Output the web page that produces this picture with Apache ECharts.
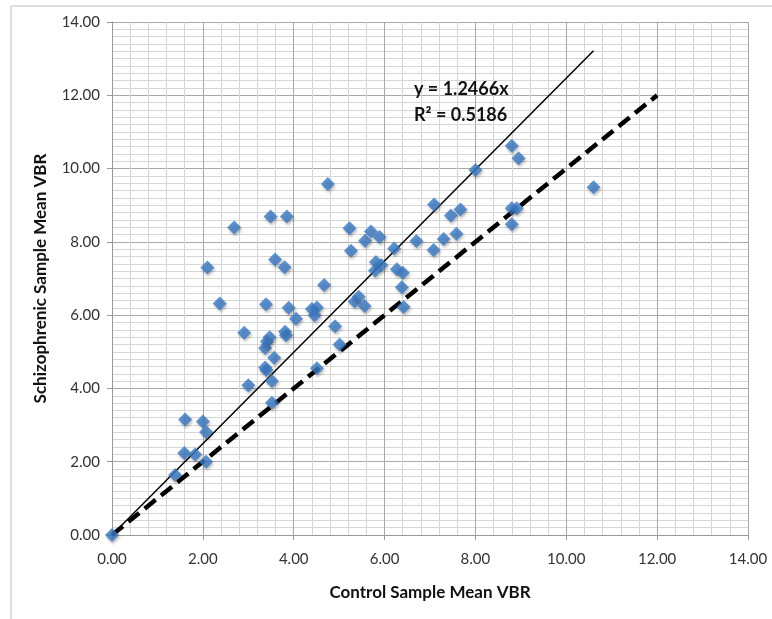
<!DOCTYPE html>
<html>
<head>
<meta charset="utf-8">
<script src="https://cdn.jsdelivr.net/npm/echarts@6/dist/echarts.min.js"></script>
<style>
  html, body { margin: 0; padding: 0; background: #fff; }
  #chart { width: 772px; height: 619px; }
</style>
</head>
<body>
<div id="chart"></div>
<script>
// control VBR (x) vs schizophrenic VBR (y)
var controlVbr = [0, 1.39, 1.59, 1.83, 2.07, 1.61, 2.0, 2.07, 2.1, 2.37, 2.69, 2.91, 3.0, 3.37, 3.4,
    3.37, 3.41, 3.47, 3.39, 3.49, 3.52, 3.52, 3.57, 3.59, 3.8, 3.85, 3.81, 3.83, 3.89, 4.05,
    4.4, 4.51, 4.46, 4.51, 4.67, 4.75, 4.91, 5.01, 5.23, 5.26, 5.34, 5.43, 5.56, 5.57, 5.7,
    5.89, 5.81, 5.93, 5.79, 6.21, 6.27, 6.4, 6.38, 6.42, 6.7, 7.08, 7.09, 7.3, 7.46, 7.67,
    7.58, 8.0, 8.8, 8.95, 8.8, 8.91, 8.8, 10.6];
var schizVbr = [0, 1.64, 2.24, 2.2, 2.0, 3.15, 3.1, 2.81, 7.3, 6.32, 8.39, 5.52, 4.09, 4.57, 4.5,
    5.1, 5.28, 5.4, 6.3, 8.69, 4.2, 3.61, 4.84, 7.52, 7.31, 8.69, 5.55, 5.45, 6.2, 5.9,
    6.17, 6.21, 6.0, 4.55, 6.82, 9.58, 5.7, 5.2, 8.37, 7.76, 6.37, 6.5, 6.25, 8.03, 8.28,
    8.13, 7.45, 7.37, 7.22, 7.82, 7.25, 7.16, 6.76, 6.22, 8.02, 7.78, 9.02, 8.08, 8.72, 8.88,
    8.22, 9.96, 10.62, 10.28, 8.92, 8.92, 8.48, 9.49];

var slope = 1.2466;
var rSquared = 0.5186;
var trendX = [0, 10.6];      // fitted line through origin
var identityX = [0, 12];     // y = x reference line

var points = controlVbr.map(function (x, i) { return [x, schizVbr[i]]; });
var trendData = trendX.map(function (x) { return [x, slope * x]; });
var identityData = identityX.map(function (x) { return [x, x]; });

var chart = echarts.init(document.getElementById('chart'));

var fontFam = 'Lato, "Open Sans", sans-serif';

var option = {
    animation: false,
    grid: { left: 112, right: 24, top: 22, bottom: 84 },
    xAxis: {
        type: 'value', min: 0, max: 14, interval: 2,
        name: 'Control Sample Mean VBR',
        nameLocation: 'middle', nameGap: 49,
        nameTextStyle: { fontFamily: fontFam, fontWeight: 'bold', fontSize: 17, color: '#111' },
        axisLine: { show: true, lineStyle: { color: '#999' } },
        axisTick: { show: true, length: 5, lineStyle: { color: '#999' } },
        axisLabel: { fontFamily: fontFam, fontSize: 15, color: '#333', margin: 17,
            formatter: function (v) { return v.toFixed(2); } },
        splitLine: { show: true, lineStyle: { color: '#a8a8a8', width: 1 } },
        minorTick: { show: false, splitNumber: 5 },
        minorSplitLine: { show: true, lineStyle: { color: '#d6d6d6', width: 1 } }
    },
    yAxis: {
        type: 'value', min: 0, max: 14, interval: 2,
        name: 'Schizophrenic Sample Mean VBR',
        nameLocation: 'middle', nameGap: 63,
        nameTextStyle: { fontFamily: fontFam, fontWeight: 'bold', fontSize: 17, color: '#111' },
        axisLine: { show: true, lineStyle: { color: '#999' } },
        axisTick: { show: true, length: 5, lineStyle: { color: '#999' } },
        axisLabel: { fontFamily: fontFam, fontSize: 15, color: '#333', margin: 12,
            formatter: function (v) { return v.toFixed(2); } },
        splitLine: { show: true, lineStyle: { color: '#a8a8a8', width: 1 } },
        minorTick: { show: false, splitNumber: 10 },
        minorSplitLine: { show: true, lineStyle: { color: '#d6d6d6', width: 1 } }
    },
    series: [
        {
            type: 'line', data: identityData, symbol: 'none', silent: true, z: 3,
            lineStyle: { color: '#000', width: 4.5, type: [14, 7] }
        },
        {
            type: 'line', data: trendData, symbol: 'none', silent: true, z: 3,
            lineStyle: { color: '#000', width: 1.5 }
        },
        {
            type: 'scatter', data: points, symbol: 'diamond', symbolSize: 14, z: 4,
            itemStyle: {
                color: '#3b79c3',
                shadowColor: 'rgba(0,0,0,0.35)', shadowBlur: 3, shadowOffsetX: 1, shadowOffsetY: 2
            }
        }
    ],
    graphic: [
        { type: 'line', shape: { x1: 11, y1: 6, x2: 772, y2: 6 }, style: { stroke: '#d4d4d4', lineWidth: 1.5 } },
        { type: 'line', shape: { x1: 11, y1: 6, x2: 11, y2: 619 }, style: { stroke: '#d4d4d4', lineWidth: 1.5 } },
        {
            type: 'text', left: 414, top: 76, z: 10,
            style: {
                text: 'y = ' + slope + 'x\nR² = ' + rSquared,
                font: 'bold 18px ' + fontFam, fill: '#111', lineHeight: 26
            }
        }
    ]
};

chart.setOption(option);
</script>
</body>
</html>
